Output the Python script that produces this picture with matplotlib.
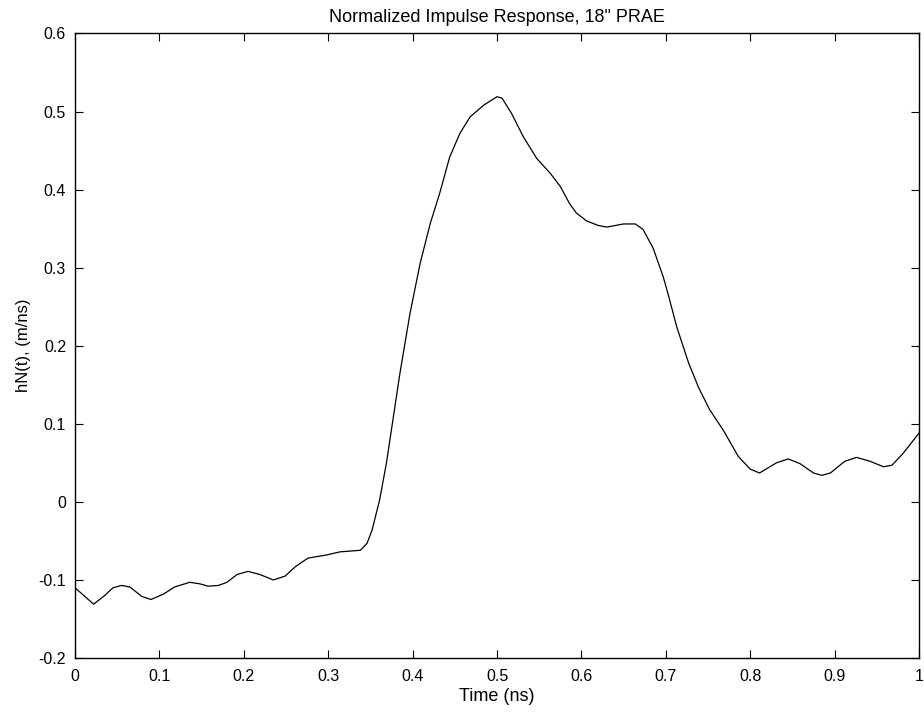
import matplotlib.pyplot as plt

# Values
time_ns = [0.000, 0.022, 0.034, 0.045, 0.055, 0.065, 0.079, 0.090, 0.105, 0.118,
           0.136, 0.148, 0.158, 0.170, 0.180, 0.192, 0.205, 0.219, 0.235, 0.249,
           0.261, 0.276, 0.298, 0.314, 0.338, 0.346, 0.352, 0.361, 0.369, 0.385,
           0.397, 0.409, 0.421, 0.432, 0.444, 0.456, 0.468, 0.484, 0.500, 0.506,
           0.517, 0.531, 0.547, 0.563, 0.575, 0.586, 0.594, 0.606, 0.620, 0.630,
           0.650, 0.664, 0.673, 0.685, 0.697, 0.703, 0.713, 0.727, 0.739, 0.752,
           0.768, 0.786, 0.800, 0.811, 0.831, 0.845, 0.859, 0.875, 0.885, 0.895,
           0.912, 0.926, 0.942, 0.958, 0.968, 0.981, 1.000]
h_norm = [-0.110, -0.131, -0.121, -0.110, -0.107, -0.109, -0.121, -0.125, -0.118, -0.109,
          -0.103, -0.105, -0.108, -0.107, -0.103, -0.093, -0.089, -0.093, -0.100, -0.095,
          -0.083, -0.072, -0.068, -0.064, -0.062, -0.053, -0.036, 0.003, 0.050, 0.165,
          0.242, 0.306, 0.357, 0.395, 0.442, 0.472, 0.493, 0.508, 0.519, 0.517,
          0.498, 0.468, 0.440, 0.421, 0.404, 0.382, 0.370, 0.360, 0.354, 0.352,
          0.356, 0.356, 0.349, 0.325, 0.288, 0.265, 0.224, 0.178, 0.146, 0.118,
          0.092, 0.058, 0.042, 0.037, 0.050, 0.055, 0.049, 0.037, 0.034, 0.037,
          0.052, 0.057, 0.052, 0.045, 0.047, 0.062, 0.088]

x_ticks = [0, 0.1, 0.2, 0.3, 0.4, 0.5, 0.6, 0.7, 0.8, 0.9, 1]
x_labels = ['0', '0.1', '0.2', '0.3', '0.4', '0.5', '0.6', '0.7', '0.8', '0.9', '1']
y_ticks = [-0.2, -0.1, 0, 0.1, 0.2, 0.3, 0.4, 0.5, 0.6]
y_labels = ['-0.2', '-0.1', '0', '0.1', '0.2', '0.3', '0.4', '0.5', '0.6']

plt.rcParams['font.family'] = ['Liberation Sans', 'DejaVu Sans']

fig = plt.figure(figsize=(9.24, 7.12), dpi=100)
ax = fig.add_axes([0.0812, 0.0758, 0.9134, 0.8772])

ax.plot(time_ns, h_norm, color='black', linewidth=0.9)

ax.set_xlim(0, 1)
ax.set_ylim(-0.2, 0.6)
ax.set_xticks(x_ticks)
ax.set_xticklabels(x_labels)
ax.set_yticks(y_ticks)
ax.set_yticklabels(y_labels)
ax.tick_params(direction='in', top=True, right=True, length=6, width=0.8,
               labelsize=11.5)
ax.tick_params(axis='x', pad=8)
ax.tick_params(axis='y', pad=6.5)
for s in ax.spines.values():
    s.set_linewidth(1.0)

ax.set_xlabel('Time (ns)', fontsize=13, labelpad=3)
ax.set_ylabel('hN(t), (m/ns)', fontsize=12, labelpad=5)
ax.set_title('Normalized Impulse Response, 18" PRAE', fontsize=13, pad=8)

fig.savefig('out.png', dpi=100)
